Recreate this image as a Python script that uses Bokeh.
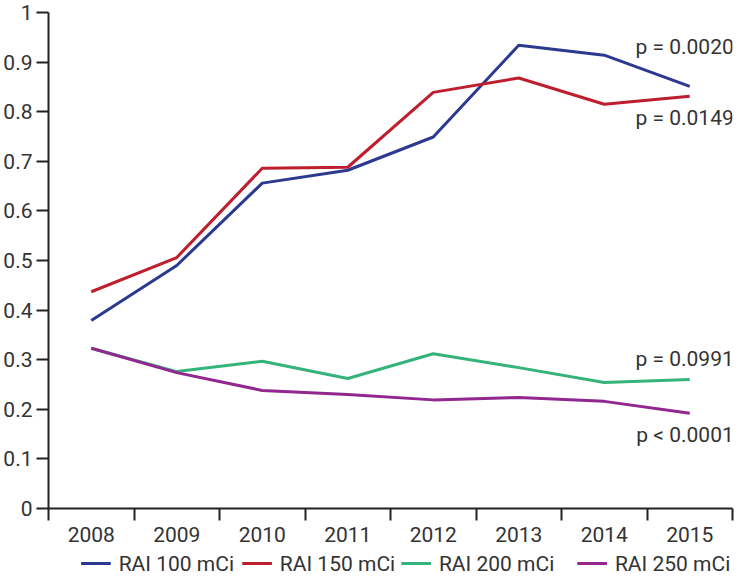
from bokeh.plotting import figure
from bokeh.layouts import column
from bokeh.models import Range1d, FixedTicker, Label
from bokeh.core.properties import value
from bokeh.embed import file_html
from bokeh.resources import INLINE

years = [2008, 2009, 2010, 2011, 2012, 2013, 2014, 2015]
rai_100 = [0.379, 0.490, 0.656, 0.682, 0.749, 0.934, 0.914, 0.851]
rai_150 = [0.437, 0.506, 0.686, 0.688, 0.839, 0.868, 0.815, 0.831]
rai_200 = [0.323, 0.276, 0.297, 0.262, 0.312, 0.284, 0.254, 0.260]
rai_250 = [0.323, 0.274, 0.238, 0.230, 0.219, 0.224, 0.216, 0.192]
series_names = ["RAI 100 mCi", "RAI 150 mCi", "RAI 200 mCi", "RAI 250 mCi"]
p_values = ["p = 0.0020", "p = 0.0149", "p = 0.0991", "p < 0.0001"]
y_ticks = [0, 0.1, 0.2, 0.3, 0.4, 0.5, 0.6, 0.7, 0.8, 0.9, 1.0]
y_tick_labels = ["0", "0.1", "0.2", "0.3", "0.4", "0.5", "0.6", "0.7", "0.8", "0.9", "1"]

colors = ["#2b3990", "#be1e2d", "#34b47b", "#92278f"]
label_offsets = [39, -22, 21, -22]          # px offsets of p-value labels from line ends
legend_starts = [73, 236, 397, 575]          # px positions of legend entries in the strip
FONT = "Roboto"
TXT = "#333333"
W = 736
LEFT, RIGHT = 40, 4

p = figure(width=W, height=548, output_backend="svg", toolbar_location=None,
           x_range=Range1d(2007.5, 2015.5), y_range=Range1d(0, 1),
           min_border_left=LEFT, min_border_top=12, min_border_right=RIGHT,
           min_border_bottom=40)
p.outline_line_color = None
p.grid.grid_line_color = None
p.background_fill_color = "white"

all_series = [rai_100, rai_150, rai_200, rai_250]
for ys, c in zip(all_series, colors):
    p.line(years, ys, line_color=c, line_width=3)

for ys, txt, off in zip(all_series, p_values, label_offsets):
    p.add_layout(Label(x=years[-1], y=ys[-1], x_offset=44, y_offset=off, text=txt,
                       text_align="right", text_baseline="middle",
                       text_font=FONT, text_font_size="21px", text_color=TXT))

# x axis: labels at centres, ticks at boundaries
xa = p.xaxis[0]
xa.ticker = FixedTicker(ticks=years, minor_ticks=[y - 0.5 for y in years] + [years[-1] + 0.5])
xa.major_tick_out = 0
xa.major_tick_in = 0
xa.minor_tick_out = 12
xa.minor_tick_in = 0
xa.minor_tick_line_color = "#222222"
xa.minor_tick_line_width = 2
xa.axis_line_color = "#222222"
xa.axis_line_width = 2
xa.major_label_standoff = 6
xa.major_label_text_font = FONT
xa.major_label_text_font_size = "21px"
xa.major_label_text_color = TXT

ya = p.yaxis[0]
ya.ticker = FixedTicker(ticks=y_ticks)
ya.major_label_overrides = {t: l for t, l in zip(y_ticks, y_tick_labels)}
ya.minor_tick_line_color = None
ya.major_tick_out = 12
ya.major_tick_in = 0
ya.major_tick_line_color = "#222222"
ya.major_tick_line_width = 2
ya.axis_line_color = "#222222"
ya.axis_line_width = 2
ya.major_label_standoff = 4
ya.major_label_text_font = FONT
ya.major_label_text_font_size = "21px"
ya.major_label_text_color = TXT

# legend strip below the chart (its frame is aligned with the chart frame: pixel coords)
SH = 28
lg = figure(width=W, height=SH, output_backend="svg", toolbar_location=None,
            x_range=Range1d(LEFT, W - RIGHT), y_range=Range1d(0, SH),
            x_axis_type=None, y_axis_type=None,
            min_border_left=LEFT, min_border_right=RIGHT, min_border_top=0, min_border_bottom=0)
lg.outline_line_color = None
lg.grid.grid_line_color = None
yc = SH - 15
lg.segment(x0=legend_starts, y0=[yc] * 4, x1=[s + 30 for s in legend_starts], y1=[yc] * 4,
           line_color=colors, line_width=3)
lg.text(x=[s + 38 for s in legend_starts], y=[yc] * 4, text=series_names,
        text_font=value(FONT), text_font_size="21px", text_color=TXT,
        text_align="left", text_baseline="middle")

open("out.html", "w").write(file_html(column(p, lg, spacing=0), INLINE))
